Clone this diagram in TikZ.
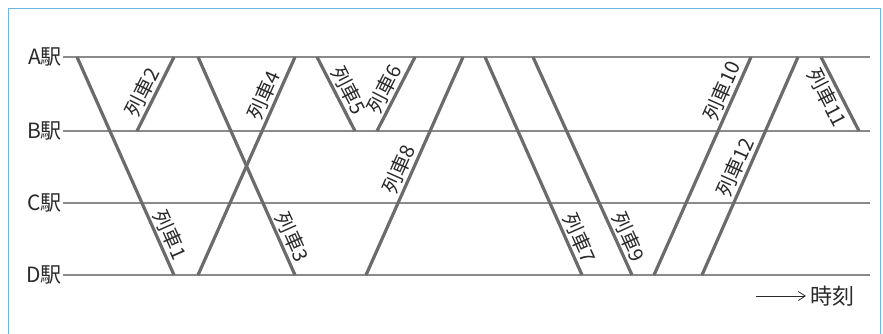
\documentclass[tikz,border=0pt]{standalone}
\usepackage{fontspec}
\setmainfont{Noto Sans CJK JP}
\usetikzlibrary{arrows.meta}
\definecolor{frameblue}{HTML}{6CB4E4}
\definecolor{stationgray}{HTML}{8A8A8A}
\definecolor{traingray}{HTML}{6B6B6B}
\definecolor{textgray}{HTML}{2A2A2A}
\begin{document}
\begin{tikzpicture}[x=1pt,y=-1pt,
        station/.style={draw=stationgray,line width=1.3pt},
        train/.style={draw=traingray,line width=3.2pt},
        trainlabel/.style={sloped,inner sep=2pt,text=textgray,font=\fontsize{20}{20}\selectfont}]
        \useasboundingbox (0,0) rectangle (883,333);
        \draw[frameblue,line width=1pt] (8,8) rectangle (880,345);
        \foreach \s/\y in {A/57,B/131,C/203,D/275} {
            \node[anchor=east,inner sep=1pt,text=textgray,font=\fontsize{21}{21}\selectfont] (st\s) at (63,\y) {{\s}駅};
            \draw[station] (st\s.east) -- (870,\y);
        }
        \foreach \xa/\ya/\xb/\yb/\n/\p/\an in {77/57/174/275/1/0.84/south,
            137/131/174/57/2/0.45/south, 198/57/295/275/3/0.85/south,
            198/275/295/57/4/0.80/south, 317/57/355/131/5/0.53/south,
            377/131/415/57/6/0.49/south, 485/57/582/275/7/0.855/south,
            366/275/463/57/8/0.46/south, 533/57/632/275/9/0.85/south,
            654/275/751/57/10/0.82/south, 821/57/859/131/11/0.47/north,
            702/275/798/57/12/0.47/south} {
            \draw[train] (\xa,\ya) -- (\xb,\yb) node[trainlabel,pos=\p,anchor=\an] {列車\n};
        }
        \coordinate (tstart) at (756,296);
        \node[anchor=west,inner sep=1pt,text=textgray,font=\fontsize{22}{22}\selectfont] (time) at (809,296) {時刻};
        \draw[textgray,line width=.8pt,shorten >=3pt,-{Straight Barb[length=7pt,width=9pt]}] (tstart) -- (time.west);
\end{tikzpicture}
\end{document}
